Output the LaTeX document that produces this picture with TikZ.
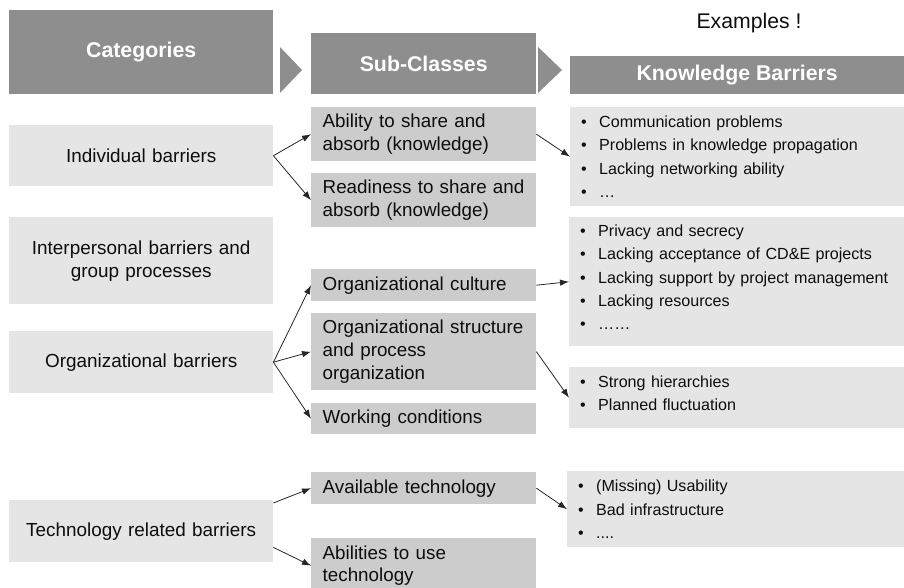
\documentclass[tikz,border=0pt]{standalone}
\usepackage{fontspec}
\setmainfont{Liberation Sans}
\usetikzlibrary{arrows.meta}

\definecolor{headgray}{HTML}{8E8E8E}
\definecolor{catgray}{HTML}{E5E5E5}
\definecolor{subgray}{HTML}{CCCCCC}
\definecolor{txtgray}{HTML}{0D0D0D}

\newcommand{\bitem}{\makebox[18pt][l]{\textbullet}}

\begin{document}
\begin{tikzpicture}[x=1pt, y=-1pt,
    head/.style={fill=headgray, text=white, font=\fontsize{21.3}{24}\selectfont\bfseries, anchor=north west, inner sep=0pt, align=center},
    cat/.style={fill=catgray, text=txtgray, font=\fontsize{18.9}{23}\selectfont, anchor=north west, inner xsep=8pt, inner ysep=0pt, text width=248pt, align=center},
    sub/.style={fill=subgray, text=txtgray, font=\fontsize{18.8}{22.7}\selectfont, anchor=north west, inner xsep=11.5pt, inner ysep=0pt, text width=202pt, align=left},
    ex/.style={fill=catgray, text=txtgray, font=\fontsize{16.1}{23.2}\selectfont, anchor=north west, inner xsep=11pt, inner ysep=0pt, text width=320pt, align=left},
    link/.style={-{Latex[length=9pt,width=6.5pt]}, line width=0.8pt, black!85}]
    \useasboundingbox (0,0) rectangle (904,588);

    % column heads
    \node[head, minimum width=264pt, minimum height=84pt] (hcat) at (9,10) {Categories};
    \node[head, minimum width=225pt, minimum height=61pt] (hsub) at (311,33) {Sub-Classes};
    \node[head, minimum width=334pt, minimum height=38pt] (hkb) at (570,56) {Knowledge Barriers};
    \foreach \x/\w in {280/22, 538/24}{
        \fill[headgray] (\x,47) -- (\x+\w,70) -- (\x,93) -- cycle;
    }
    \node[font=\fontsize{21.2}{24}\selectfont, text=txtgray] (exmp) at (749,23) {Examples !};

    % categories
    \node[cat, minimum height=61pt] (cind) at (9,125) {Individual barriers};
    \node[cat, minimum height=87pt] (cint) at (9,217) {Interpersonal barriers and\\group processes};
    \node[cat, minimum height=62pt] (corg) at (9,331) {Organizational barriers};
    \node[cat, minimum height=62pt] (ctech) at (9,500) {Technology related barriers};

    % sub-classes
    \node[sub, minimum height=54pt] (sabil) at (311,107) {Ability to share and\\absorb (knowledge)};
    \node[sub, minimum height=54pt] (sread) at (311,173) {Readiness to share and\\absorb (knowledge)};
    \node[sub, minimum height=32pt] (scult) at (311,269) {Organizational culture};
    \node[sub, minimum height=77pt] (sstruc) at (311,313) {Organizational structure\\and process\\organization};
    \node[sub, minimum height=31pt] (swork) at (311,403) {Working conditions};
    \node[sub, minimum height=32pt] (savail) at (311,472) {Available technology};
    \node[sub, minimum height=55pt] (suse) at (311,538) {Abilities to use\\technology};

    % example barriers
    \node[ex, minimum height=99pt] (kind) at (570,107) {\bitem Communication problems\\ \bitem Problems in knowledge propagation\\ \bitem Lacking networking ability\\ \bitem …};
    \node[ex, minimum height=129pt] (korg) at (569,217) {\bitem Privacy and secrecy\\ \bitem Lacking acceptance of CD\&E projects\\ \bitem Lacking support by project management\\ \bitem Lacking resources\\ \bitem ……\par\vspace{9pt}};
    \node[ex, minimum height=61pt] (kstruc) at (569,367) {\bitem Strong hierarchies\\ \bitem Planned fluctuation\par\vspace{9pt}};
    \node[ex, minimum height=76pt] (ktech) at (567,471) {\bitem (Missing) Usability\\ \bitem Bad infrastructure\\ \bitem ....};

    % links
    \draw[link] (cind.east) -- (sabil.west);
    \draw[link] (cind.east) -- (sread.west);
    \foreach \s in {scult, sstruc, swork}{
        \draw[link] (corg.east) -- (\s.west);
    }
    \draw[link] ([yshift=-3pt]ctech.north east) -- (savail.west);
    \draw[link] ([yshift=15pt]ctech.south east) -- (suse.west);
    \draw[link] (sabil.east) -- (kind.west);
    \draw[link] (scult.east) -- (korg.west);
    \draw[link] (sstruc.east) -- (kstruc.west);
    \draw[link] (savail.east) -- (ktech.west);
\end{tikzpicture}
\end{document}
